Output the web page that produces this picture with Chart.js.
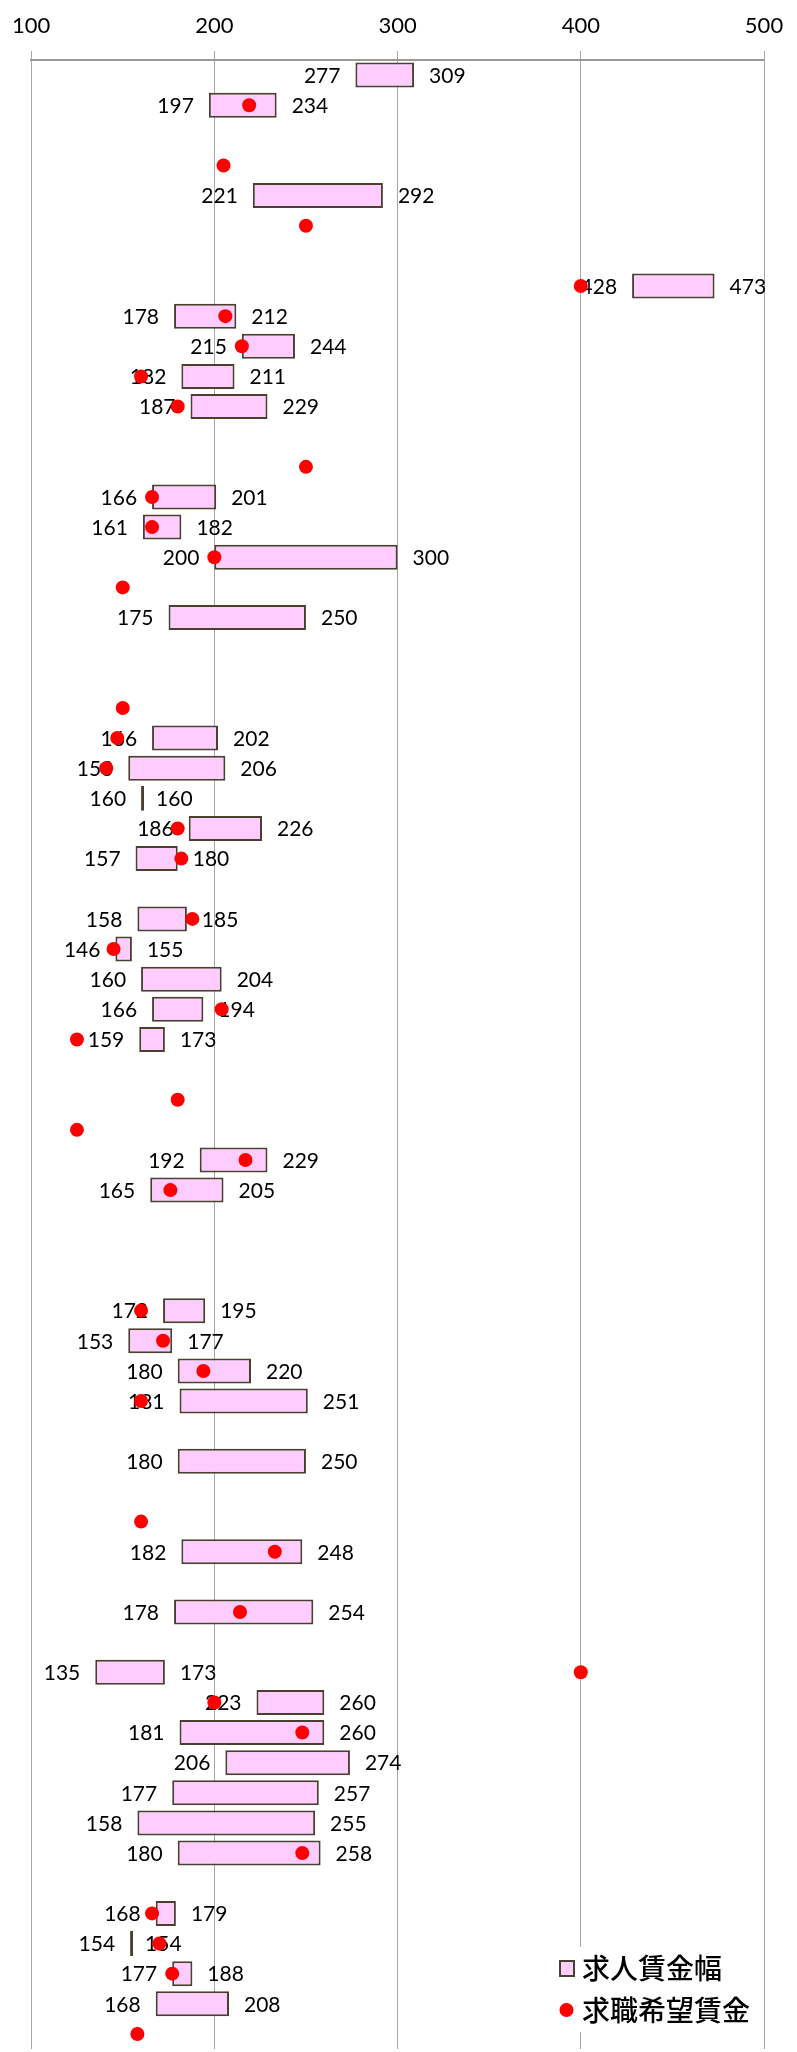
<!DOCTYPE html>
<html>
<head>
<meta charset="utf-8">
<script src="https://cdn.jsdelivr.net/npm/chart.js@4"></script>
<style>
  html, body { margin: 0; padding: 0; background: #fff; overflow: hidden; }
  canvas { display: block; }
</style>
</head>
<body>
<canvas id="wageChart" width="797" height="2056"></canvas>
<script>
// one entry per row, top to bottom (66 rows, no visible category names)
const rows = [];
for (let i = 1; i <= 66; i++) rows.push(String(i));

// offered wage range (min / max), null = no bar on that row
const wageMin = [
  277, 197, null, null, 221, null, null, 428, 178, 215,
  182, 187, null, null, 166, 161, 200, null, 175, null,
  null, null, 166, 153, 160, 186, 157, null, 158, 146,
  160, 166, 159, null, null, null, 192, 165, null, null,
  null, 172, 153, 180, 181, null, 180, null, null, 182,
  null, 178, null, 135, 223, 181, 206, 177, 158, 180,
  null, 168, 154, 177, 168, null
];
const wageMax = [
  309, 234, null, null, 292, null, null, 473, 212, 244,
  211, 229, null, null, 201, 182, 300, null, 250, null,
  null, null, 202, 206, 160, 226, 180, null, 185, 155,
  204, 194, 173, null, null, null, 229, 205, null, null,
  null, 195, 177, 220, 251, null, 250, null, null, 248,
  null, 254, null, 173, 260, 260, 274, 257, 255, 258,
  null, 179, 154, 188, 208, null
];
// desired wage of job seekers
const desiredWage = [
  null, 219, null, 205, null, 250, null, 400, 206, 215,
  160, 180, null, 250, 166, 166, 200, 150, null, null,
  null, 150, 147, 141, null, 180, 182, null, 188, 145,
  null, 204, 125, null, 180, 125, 217, 176, null, null,
  null, 160, 172, 194, 160, null, null, null, 160, 233,
  null, 214, null, 400, 200, 248, null, null, null, 248,
  null, 166, 170, 177, null, 158
];

const xTicks = [100, 200, 300, 400, 500];

const PINK = '#FFCCFF';
const EDGE = '#4a4030';

const ranges = wageMin.map((v, i) => v == null ? null : [v, wageMax[i]]);

// min / max numbers beside each bar
const barLabels = {
  id: 'barLabels',
  afterDatasetDraw(chart, args) {
    if (args.index !== 0) return;
    const ctx = chart.ctx;
    const x = chart.scales.x;
    ctx.save();
    ctx.font = '21px Lato';
    ctx.fillStyle = '#000';
    ctx.textBaseline = 'middle';
    args.meta.data.forEach((bar, i) => {
      if (wageMin[i] == null) return;
      ctx.textAlign = 'right';
      ctx.fillText(wageMin[i], x.getPixelForValue(wageMin[i]) - 15, bar.y + 1);
      ctx.textAlign = 'left';
      ctx.fillText(wageMax[i], x.getPixelForValue(wageMax[i]) + 15, bar.y + 1);
    });
    ctx.restore();
  }
};

// legend box in the lower right of the plot
const cornerLegend = {
  id: 'cornerLegend',
  afterDraw(chart) {
    const ctx = chart.ctx;
    const names = chart.data.datasets.map(d => d.label);
    ctx.save();
    ctx.fillStyle = '#fff';
    ctx.fillRect(548, 1947, 210, 85);
    ctx.fillStyle = PINK;
    ctx.fillRect(560, 1961, 14, 15);
    ctx.strokeStyle = EDGE;
    ctx.lineWidth = 2;
    ctx.strokeRect(560, 1961, 14, 15);
    ctx.fillStyle = '#ff0000';
    ctx.beginPath();
    ctx.arc(566.5, 2010, 7, 0, Math.PI * 2);
    ctx.fill();
    ctx.fillStyle = '#000';
    ctx.font = '500 28px "Noto Sans CJK JP"';
    ctx.textBaseline = 'middle';
    ctx.textAlign = 'left';
    ctx.fillText(names[0], 582, 1968);
    ctx.fillText(names[1], 582, 2010);
    ctx.restore();
  }
};

const ctx = document.getElementById('wageChart').getContext('2d');
new Chart(ctx, {
  type: 'bar',
  data: {
    labels: rows,
    datasets: [{
      label: '求人賃金幅',
      data: ranges,
      backgroundColor: PINK,
      borderColor: EDGE,
      borderWidth: 2,
      borderSkipped: false,
      barPercentage: 0.83,
      categoryPercentage: 1,
      minBarLength: 3,
      order: 2
    }, {
      type: 'line',
      label: '求職希望賃金',
      data: desiredWage,
      showLine: false,
      pointRadius: 7,
      pointBackgroundColor: '#ff0000',
      pointBorderWidth: 0,
      order: 1
    }]
  },
  options: {
    indexAxis: 'y',
    responsive: false,
    animation: false,
    layout: { padding: { left: 25, right: 33, top: 0, bottom: 0 } },
    plugins: {
      legend: { display: false },
      tooltip: { enabled: false }
    },
    scales: {
      x: {
        position: 'top',
        min: 100,
        max: 500,
        afterBuildTicks(scale) {
          scale.ticks = xTicks.map(v => ({ value: v }));
        },
        afterFit(scale) {
          scale.height = 60;
        },
        grid: { color: '#a6a6a6', lineWidth: 1, tickLength: 9 },
        border: { color: '#9a9a9a', width: 2 },
        ticks: {
          padding: 12,
          color: '#000',
          font: { family: 'Lato', size: 22 }
        }
      },
      y: {
        display: false,
        grid: { display: false }
      }
    }
  },
  plugins: [barLabels, cornerLegend]
});
</script>
</body>
</html>
